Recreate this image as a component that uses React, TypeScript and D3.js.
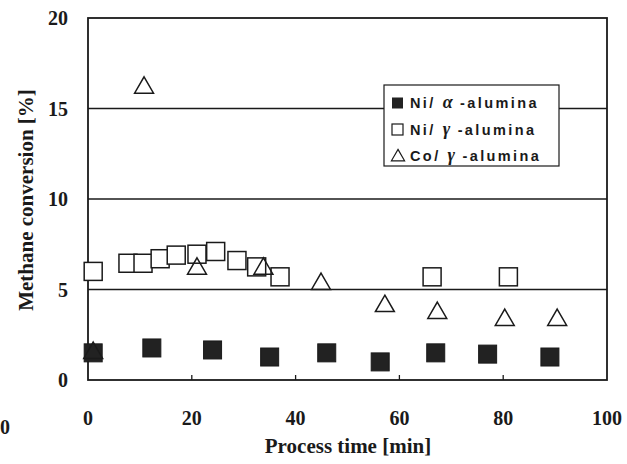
import React from 'react';
import * as d3 from 'd3';

// Ni/alpha-alumina (filled squares)
const niAlphaTime = [1, 12.3, 24, 35, 46, 56.3, 67, 77, 89];
const niAlphaConv = [1.5, 1.77, 1.66, 1.27, 1.5, 1.0, 1.5, 1.43, 1.27];

// Ni/gamma-alumina (open squares)
const niGammaTime = [1, 7.7, 10.6, 13.9, 17, 21, 24.6, 28.7, 32.5, 37, 66.3, 81];
const niGammaConv = [6.0, 6.45, 6.45, 6.7, 6.9, 6.95, 7.1, 6.6, 6.25, 5.7, 5.7, 5.7];

// Co/gamma-alumina (open triangles)
const coGammaTime = [1, 10.8, 21, 33.8, 44.9, 57.2, 67.3, 80.3, 90.4];
const coGammaConv = [1.55, 16.2, 6.2, 6.2, 5.36, 4.14, 3.76, 3.37, 3.37];

const xTicks = [0, 20, 40, 60, 80, 100];
const yTicks = [0, 5, 10, 15, 20];
const gridLines = [5, 10, 15];

// legend: prefix, greek letter, suffix
const legendPre = ['Ni/', 'Ni/', 'Co/'];
const legendGreek = ['\u03b1', '\u03b3', '\u03b3'];
const legendPost = ['-alumina', '-alumina', '-alumina'];

const W = 627;
const H = 464;
const serif = '"Liberation Serif", "Times New Roman", serif';
const sans = '"Liberation Sans", Arial, sans-serif';
const ink = '#1a1a1a';

export default function App() {
  const x = d3.scaleLinear().domain([0, 100]).range([88, 607]);
  const y = d3.scaleLinear().domain([0, 20]).range([380, 18]);

  const sq = 18;
  const tri = d3.symbol().type(d3.symbolTriangle).size(155);

  const niAlpha = niAlphaTime.map((t, i) => [t, niAlphaConv[i]]);
  const niGamma = niGammaTime.map((t, i) => [t, niGammaConv[i]]);
  const coGamma = coGammaTime.map((t, i) => [t, coGammaConv[i]]);

  return (
    <svg width={W} height={H} style={{ position: 'absolute', left: 0, top: 0, background: '#fff' }}>
      <rect width={W} height={H} fill="#fff" />

      {/* grid lines */}
      {gridLines.map(v => (
        <line key={v} x1={x(0)} x2={x(100)} y1={y(v)} y2={y(v)} stroke={ink} strokeWidth={1.3} />
      ))}

      {/* x ticks inside */}
      {xTicks.slice(1, -1).map(v => (
        <line key={v} x1={x(v)} x2={x(v)} y1={y(0)} y2={y(0) - 5} stroke={ink} strokeWidth={1.3} />
      ))}

      {/* frame */}
      <rect x={x(0)} y={y(20)} width={x(100) - x(0)} height={y(0) - y(20)} fill="none" stroke={ink} strokeWidth={1.8} />

      {/* Ni/gamma open squares */}
      {niGamma.map(([t, v], i) => (
        <rect key={'g' + i} x={x(t) - sq / 2} y={y(v) - sq / 2} width={sq} height={sq}
          fill="#fff" stroke={ink} strokeWidth={1.5} />
      ))}

      {/* Ni/alpha filled squares */}
      {niAlpha.map(([t, v], i) => (
        <rect key={'a' + i} x={x(t) - sq / 2} y={y(v) - sq / 2} width={sq} height={sq}
          fill="#222" stroke={ink} strokeWidth={1} />
      ))}

      {/* Co/gamma open triangles */}
      {coGamma.map(([t, v], i) => (
        <path key={'c' + i} d={tri() as string} transform={`translate(${x(t)},${y(v) + 1})`}
          fill="none" stroke={ink} strokeWidth={1.5} />
      ))}

      {/* y tick labels */}
      {yTicks.map(v => (
        <text key={v} x={68} y={y(v)} dy="0.35em" textAnchor="end" fontFamily={serif}
          fontWeight="bold" fontSize={20} fill={ink}>{v}</text>
      ))}

      {/* x tick labels */}
      {xTicks.map(v => (
        <text key={v} x={x(v)} y={425} textAnchor="middle" fontFamily={serif}
          fontWeight="bold" fontSize={20} fill={ink}>{v}</text>
      ))}

      {/* stray label from neighbouring figure */}
      <text x={0} y={434} fontFamily={serif} fontWeight="bold" fontSize={20} fill={ink}>0</text>

      {/* axis titles */}
      <text x={348} y={453} textAnchor="middle" fontFamily={serif} fontWeight="bold" fontSize={21} fill={ink}>
        Process time [min]
      </text>
      <text transform="translate(33,200) rotate(-90)" textAnchor="middle" fontFamily={serif}
        fontWeight="bold" fontSize={21} fill={ink}>
        Methane conversion [%]
      </text>

      {/* legend */}
      <g>
        <rect x={384} y={85} width={175} height={81} fill="#fff" stroke={ink} strokeWidth={1.2} />
        {legendPre.map((pre, i) => {
          const cy = 103 + i * 26.5;
          return (
            <g key={i}>
              {i === 0 && <rect x={392} y={cy - 5.5} width={11} height={11} fill="#222" />}
              {i === 1 && <rect x={392} y={cy - 5.5} width={11} height={11} fill="#fff" stroke={ink} strokeWidth={1.2} />}
              {i === 2 && (
                <path d={d3.symbol().type(d3.symbolTriangle).size(75)() as string}
                  transform={`translate(398,${cy + 1})`} fill="none" stroke={ink} strokeWidth={1.2} />
              )}
              <text x={410} y={cy} dy="0.36em" fontFamily={sans} fontWeight="bold" fontSize={14.5}
                fill={ink} letterSpacing={2.4}>
                <tspan>{pre}</tspan>
                <tspan dx={7} fontFamily={serif} fontStyle="italic" fontSize={18}>{legendGreek[i]}</tspan>
                <tspan dx={5}>{legendPost[i]}</tspan>
              </text>
            </g>
          );
        })}
      </g>
    </svg>
  );
}
